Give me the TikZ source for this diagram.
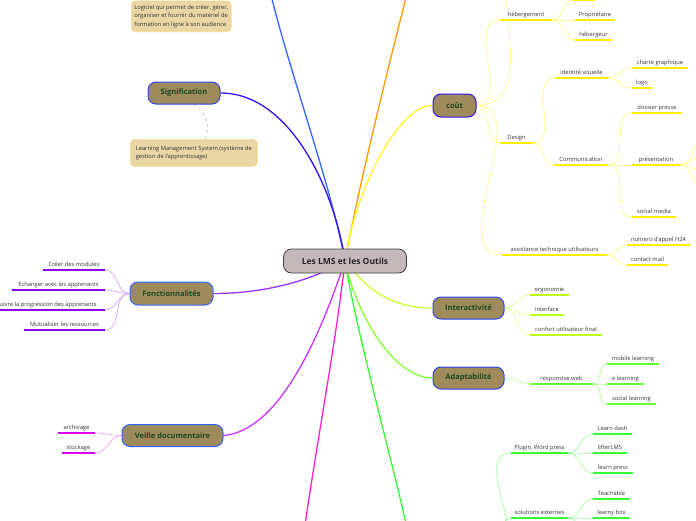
\documentclass[tikz,border=0pt]{standalone}
\usepackage{fontspec}
\setmainfont{Open Sans}
\usetikzlibrary{backgrounds}
\definecolor{brownfill}{HTML}{9E8A5A}
\definecolor{topicborder}{HTML}{3344EE}
\definecolor{topictext}{HTML}{1E4A22}
\definecolor{centerfill}{HTML}{C4B9BA}
\definecolor{boxfill}{HTML}{EBD6A6}
\definecolor{boxborder}{HTML}{F3E08A}
\definecolor{leaftext}{HTML}{333333}
\definecolor{cyellow}{HTML}{FFFF22}
\definecolor{ulyellow}{HTML}{FFEE00}
\definecolor{subyellow}{HTML}{FFFF77}
\definecolor{clime}{HTML}{CCFF33}
\definecolor{ullime}{HTML}{BBFF11}
\definecolor{sublime}{HTML}{DDFF88}
\definecolor{cgreenA}{HTML}{88FF33}
\definecolor{ulgreenA}{HTML}{66FF33}
\definecolor{subgreenA}{HTML}{AAFF88}
\definecolor{cgreen}{HTML}{33FF33}
\definecolor{ulgreen}{HTML}{33FF33}
\definecolor{subgreen}{HTML}{99FF99}
\definecolor{cpurple}{HTML}{9933FF}
\definecolor{ulpurple}{HTML}{8800EE}
\definecolor{subpurple}{HTML}{CC99FF}
\definecolor{cviolet}{HTML}{CC33FF}
\definecolor{ulviolet}{HTML}{DD00FF}
\definecolor{subviolet}{HTML}{EE99FF}
\definecolor{cpink}{HTML}{FF22CC}
\definecolor{cblue}{HTML}{3366FF}
\definecolor{corange}{HTML}{FF9900}
\definecolor{cindigo}{HTML}{3311EE}
\newcommand\lf[6]{%
  \pgfmathsetmacro\lfw{#3-#2}\pgfmathsetmacro\lfm{(#2+#3)/2}%
  \node[leaf, minimum width=\lfw pt, anchor=south] (#1) at (\lfm,#4) {#5};
  \draw[line width=2pt, #6] (#1.south west) -- (#1.south east);}
\tikzset{
  leaf/.style={font=\fontsize{5.8}{7}\selectfont, text=leaftext, inner xsep=0pt, inner ysep=2.5pt, text height=4.5pt, text depth=1.3pt},
  topic/.style={draw=topicborder, line width=1pt, fill=brownfill, rounded corners=8pt, minimum height=22pt, inner sep=0pt, font=\fontsize{7.5}{9}\selectfont\bfseries, text=topictext},
  centre/.style={draw=black!75, line width=0.8pt, fill=centerfill, rounded corners=8pt, minimum height=24pt, minimum width=123pt, inner sep=0pt, font=\fontsize{8.5}{10}\selectfont\bfseries, text=black!85},
  notebox/.style={draw=boxborder, line width=0.6pt, fill=boxfill, rounded corners=4pt, font=\fontsize{5.8}{8.5}\selectfont, text=leaftext, align=left, inner xsep=3pt, inner ysep=4pt},
  mainbr/.style={line width=1.3pt},
  subbr/.style={line width=0.6pt},
}
\begin{document}
\begin{tikzpicture}[x=1pt,y=-1pt]
\useasboundingbox (0,0) rectangle (696,520);
% centre and topics
\node[centre] (c) at (345,261) {Les LMS et les Outils};
\node[topic, minimum width=72pt] (sig) at (184,93) {Signification};
\node[topic, minimum width=83pt, minimum height=23pt, draw=cblue] (fon) at (171.5,293.5) {Fonctionnalités};
\node[topic, minimum width=101pt, draw=cblue] (vei) at (172.5,435.5) {Veille documentaire};
\node[topic, minimum width=43pt, minimum height=23pt, draw=cindigo] (cout) at (454.5,105.5) {coût};
\node[topic, minimum width=71pt] (int) at (468.5,308) {Interactivité};
\node[topic, minimum width=71pt] (ada) at (468.5,378) {Adaptabilité};
% off-canvas parents
\coordinate (topA) at (267,-22);
\coordinate (topB) at (411,-22);
\coordinate (botP) at (300,560);
\coordinate (botG) at (412,550);
\coordinate (botGe) at (496,560);
\coordinate (coutUp) at (505,-25);
% notes
\node[notebox, anchor=south west] (def) at (131,32) {Logiciel qui permet de créer, gérer,\\organiser et fournir du matériel de\\formation en ligne à son audience};
\node[notebox, anchor=north west, minimum width=127pt, minimum height=27pt] (lms) at (130,139) {Learning Management System (système de\\gestion de l'apprentissage)};
% leaves
\lf{f1}{43}{105}{270}{Créer des modules}{ulpurple}
\lf{f2}{12}{105}{290}{Echanger avec les apprenants}{ulpurple}
\lf{f3}{-12}{105}{310}{Suivre la progression des apprenants}{ulpurple}
\lf{f4}{24}{105}{330}{Mutualiser les ressources}{ulpurple}
\lf{v1}{58}{95}{433}{archivage}{ulviolet}
\lf{v2}{62}{95}{453}{stockage}{ulviolet}
\lf{heb}{500}{552}{20}{hébergement}{ulyellow}
\coordinate (hx1) at (573,0); \coordinate (hx2) at (595,0);
\draw[line width=2pt, ulyellow] (hx1) -- (hx2);
\lf{prop}{575}{615}{20}{Propriétaire}{ulyellow}
\lf{hgr}{575}{612}{40}{hébergeur}{ulyellow}
\lf{des}{500}{533}{143}{Design}{ulyellow}
\lf{idv}{555}{608}{78}{identité visuelle}{ulyellow}
\lf{chg}{632}{688}{68}{charte graphique}{ulyellow}
\lf{logo}{632}{652}{88}{logo}{ulyellow}
\lf{com}{554}{608}{165}{Communication}{ulyellow}
\lf{dos}{632}{682}{113}{dossier presse}{ulyellow}
\lf{pre}{632}{680}{165}{présentation}{ulyellow}
\lf{soc}{632}{676}{217}{social media}{ulyellow}
\lf{ass}{502}{607}{255}{assistance technique utilisateurs}{ulyellow}
\lf{num}{627}{690}{245}{numero d'appel H24}{ulyellow}
\lf{cml}{627}{668}{265}{contact mail}{ulyellow}
\lf{erg}{530}{569}{295}{ergonomie}{ullime}
\lf{itf}{530}{564}{315}{interface}{ullime}
\lf{cnf}{530}{602}{335}{confort utilisateur final}{ullime}
\lf{rw}{530}{593}{384}{responsive web}{ulgreenA}
\lf{mob}{607}{659}{364}{mobile learning}{ulgreenA}
\lf{el}{607}{644}{384}{e learning}{ulgreenA}
\lf{sl}{607}{656}{404}{social learning}{ulgreenA}
\lf{plug}{511}{568}{453}{Plugin, Word press}{ulgreen}
\lf{ld}{593}{632}{434}{Learn dash}{ulgreen}
\lf{lif}{593}{627}{453}{lifterLMS}{ulgreen}
\lf{lp}{593}{633}{473}{learn press}{ulgreen}
\lf{sol}{511}{568}{518}{solutions externes}{ulgreen}
\lf{tea}{593}{630}{499}{Teachable}{ulgreen}
\lf{lb}{593}{630}{518}{learny box}{ulgreen}
\coordinate (pr1) at (705,140);
\coordinate (pr2) at (705,155);
\coordinate (pr3) at (705,172);
\coordinate (pr4) at (705,190);
\coordinate (solx) at (593,545);
\begin{pgfonlayer}{background}
% main branches
\draw[mainbr, cblue] (topA) .. controls (285,60) and (330,180) .. (c.center);
\draw[mainbr, corange] (topB) .. controls (390,60) and (360,180) .. (c.center);
\draw[mainbr, cindigo] (sig.east) .. controls +(70,0) and +(-10,-70) .. (c.center);
\draw[mainbr, cyellow] (cout.west) .. controls +(-35,0) and +(10,-70) .. (c.center);
\draw[mainbr, cpurple] (fon.east) .. controls +(60,0) and +(-25,15) .. (c.center);
\draw[mainbr, cviolet] (vei.east) .. controls +(60,-5) and +(-20,60) .. (c.center);
\draw[mainbr, cpink] (botP) .. controls (315,450) and (335,350) .. (c.center);
\draw[mainbr, cgreen] (botG) .. controls (395,470) and (358,340) .. (c.center);
\draw[mainbr, clime] (int.west) .. controls +(-45,0) and +(20,25) .. (c.center);
\draw[mainbr, cgreenA] (ada.west) .. controls +(-40,0) and +(10,50) .. (c.center);
\draw[dashed, gray!60, line width=0.6pt] ([xshift=10pt]sig.south) .. controls +(15,12) and +(3,-14) .. ([xshift=12pt]lms.north);
% sub branches
\foreach \n in {f1,f2,f3,f4} \draw[subbr, subpurple] (fon.west) to[out=180,in=0] (\n.south east);
\foreach \n in {v1,v2} \draw[subbr, subviolet] (vei.west) to[out=180,in=0] (\n.south east);
\foreach \n in {heb,des,ass} \draw[subbr, subyellow] (cout.east) to[out=0,in=180] (\n.south west);
\draw[subbr, subyellow] (cout.east) to[out=0,in=270] (coutUp);
\draw[subbr, subyellow] (heb.south east) to[out=0,in=180] (hx1);
\foreach \n in {prop,hgr} \draw[subbr, subyellow] (heb.south east) to[out=0,in=180] (\n.south west);
\foreach \n in {idv,com} \draw[subbr, subyellow] (des.south east) to[out=0,in=180] (\n.south west);
\foreach \n in {chg,logo} \draw[subbr, subyellow] (idv.south east) to[out=0,in=180] (\n.south west);
\foreach \n in {dos,pre,soc} \draw[subbr, subyellow] (com.south east) to[out=0,in=180] (\n.south west);
\foreach \n in {pr1,pr2,pr3,pr4} \draw[subbr, subyellow] (pre.south east) to[out=0,in=180] (\n);
\foreach \n in {num,cml} \draw[subbr, subyellow] (ass.south east) to[out=0,in=180] (\n.south west);
\foreach \n in {erg,itf,cnf} \draw[subbr, sublime] (int.east) to[out=0,in=180] (\n.south west);
\draw[subbr, subgreenA] (ada.east) to[out=0,in=180] (rw.south west);
\foreach \n in {mob,el,sl} \draw[subbr, subgreenA] (rw.south east) to[out=0,in=180] (\n.south west);
\foreach \n in {plug,sol} \draw[subbr, subgreen] (botGe) to[out=0,in=180] (\n.south west);
\foreach \n in {ld,lif,lp} \draw[subbr, subgreen] (plug.south east) to[out=0,in=180] (\n.south west);
\foreach \n in {tea,lb} \draw[subbr, subgreen] (sol.south east) to[out=0,in=180] (\n.south west);
\draw[subbr, subgreen] (sol.south east) to[out=0,in=180] (solx);
\end{pgfonlayer}
\end{tikzpicture}
\end{document}
